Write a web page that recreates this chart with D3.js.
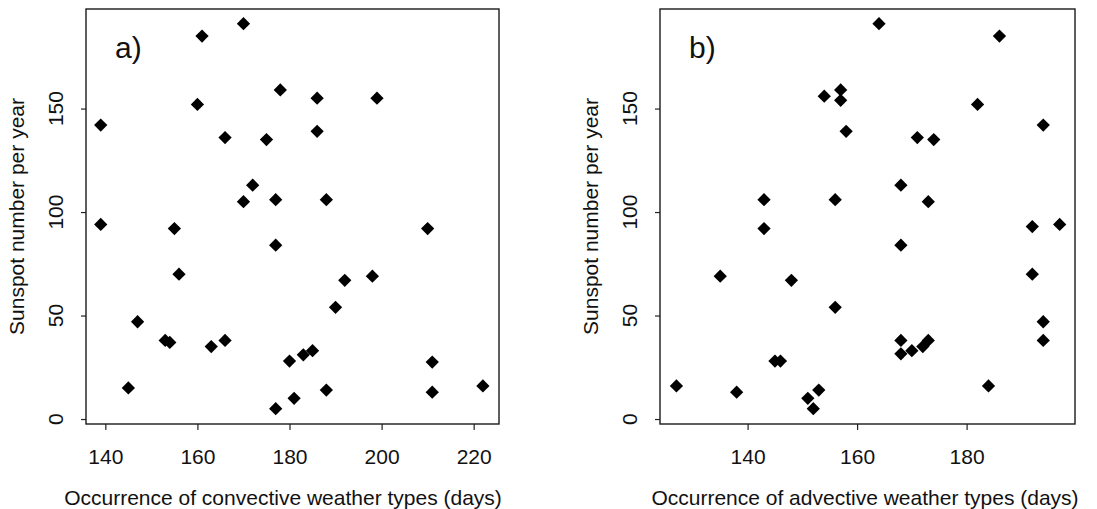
<!DOCTYPE html>
<html>
<head>
<meta charset="utf-8">
<script src="https://cdn.jsdelivr.net/npm/d3@7"></script>
<style>
  body { margin: 0; background: #fff; }
  svg text { font-family: "Liberation Sans", Arial, Helvetica, sans-serif; fill: #111; }
</style>
</head>
<body>
<svg id="chart" width="1097" height="509"></svg>
<script>
// panel a) convective weather types vs sunspot number
const convectiveDays = [170, 161, 160, 139, 166, 175, 172, 170, 177, 139, 155, 177, 178, 186, 199, 186, 188, 210, 156,
  147, 153, 154, 163, 166, 145, 177, 192, 198, 190, 180, 183, 185, 211, 188, 181, 211, 222];
const sunspotsA = [191, 185, 152, 142, 136, 135, 113, 105, 106, 94, 92, 84, 159, 155, 155, 139, 106, 92, 70,
  47, 38, 37, 35, 38, 15, 5, 67, 69, 54, 28, 31, 33, 27.5, 14, 10, 13, 16];

// panel b) advective weather types vs sunspot number
const advectiveDays = [154, 157, 157, 158, 143, 143, 156, 164, 186, 182, 194, 171, 174, 168, 173, 192, 197, 168, 135,
  148, 156, 145, 146, 127, 138, 151, 153, 152, 192, 194, 194, 168, 168, 170, 172, 173, 184];
const sunspotsB = [156, 159, 154, 139, 106, 92, 106, 191, 185, 152, 142, 136, 135, 113, 105, 93, 94, 84, 69,
  67, 54, 28, 28, 16, 13, 10, 14, 5, 70, 47, 38, 38, 31.5, 33, 35, 38, 16];

const yTicks = [0, 50, 100, 150];
const xTicksA = [140, 160, 180, 200, 220];
const xTicksB = [140, 160, 180];

const svg = d3.select('#chart');

const panels = [
  { tag: 'a)', xs: convectiveDays, ys: sunspotsA, ticks: xTicksA, domain: [135.8, 225.5], left: 86, right: 499,
    xlabel: 'Occurrence of convective weather types (days)', xlabelX: 283 },
  { tag: 'b)', xs: advectiveDays, ys: sunspotsB, ticks: xTicksB, domain: [124, 199.8], left: 660, right: 1075,
    xlabel: 'Occurrence of advective weather types (days)', xlabelX: 865 }
];

const plotTop = 9, plotBottom = 424;
const fontSize = 21;
const y = d3.scaleLinear().domain([-2.4, 198.1]).range([plotBottom, plotTop]);
const diamond = d3.symbol(d3.symbolSquare, 88);

panels.forEach((p) => {
  const x = d3.scaleLinear().domain(p.domain).range([p.left, p.right]);
  const g = svg.append('g');

  // x axis, R style: ticks hang below the box, labels further down
  const xAxis = g.append('g')
    .attr('transform', `translate(0,${plotBottom})`)
    .call(d3.axisBottom(x).tickValues(p.ticks).tickSize(6).tickPadding(19).tickSizeOuter(0));
  xAxis.select('.domain').remove();
  xAxis.selectAll('line').attr('stroke', '#222').attr('stroke-width', 1.2);
  xAxis.selectAll('text').attr('font-size', fontSize).attr('fill', '#111');

  // y axis with rotated labels
  const yAxis = g.append('g')
    .attr('transform', `translate(${p.left},0)`)
    .call(d3.axisLeft(y).tickValues(yTicks).tickSize(5).tickSizeOuter(0).tickFormat(''));
  yAxis.select('.domain').remove();
  yAxis.selectAll('line').attr('stroke', '#222').attr('stroke-width', 1.2);
  g.selectAll('.ytick')
    .data(yTicks)
    .enter()
    .append('text')
    .attr('class', 'ytick')
    .attr('transform', (d) => `translate(${p.left - 30},${y(d)}) rotate(-90)`)
    .attr('text-anchor', 'middle')
    .attr('dy', '0.35em')
    .attr('font-size', fontSize)
    .text((d) => d);

  // frame
  g.append('rect')
    .attr('x', p.left)
    .attr('y', plotTop)
    .attr('width', p.right - p.left)
    .attr('height', plotBottom - plotTop)
    .attr('fill', 'none')
    .attr('stroke', '#1a1a1a')
    .attr('stroke-width', 1.4);

  // points
  g.selectAll('.pt')
    .data(p.xs.map((v, i) => [v, p.ys[i]]))
    .enter()
    .append('path')
    .attr('class', 'pt')
    .attr('d', diamond)
    .attr('transform', (d) => `translate(${x(d[0])},${y(d[1])}) rotate(45)`)
    .attr('fill', '#000');

  // panel tag
  g.append('text')
    .attr('x', p.left + 29)
    .attr('y', 58)
    .attr('font-size', 30)
    .text(p.tag);

  // axis titles
  g.append('text')
    .attr('x', p.xlabelX)
    .attr('y', 505)
    .attr('text-anchor', 'middle')
    .attr('font-size', fontSize)
    .text(p.xlabel);

  g.append('text')
    .attr('transform', `translate(${p.left - 69},${(plotTop + plotBottom) / 2}) rotate(-90)`)
    .attr('text-anchor', 'middle')
    .attr('dy', '0.35em')
    .attr('font-size', fontSize)
    .text('Sunspot number per year');
});
</script>
</body>
</html>
